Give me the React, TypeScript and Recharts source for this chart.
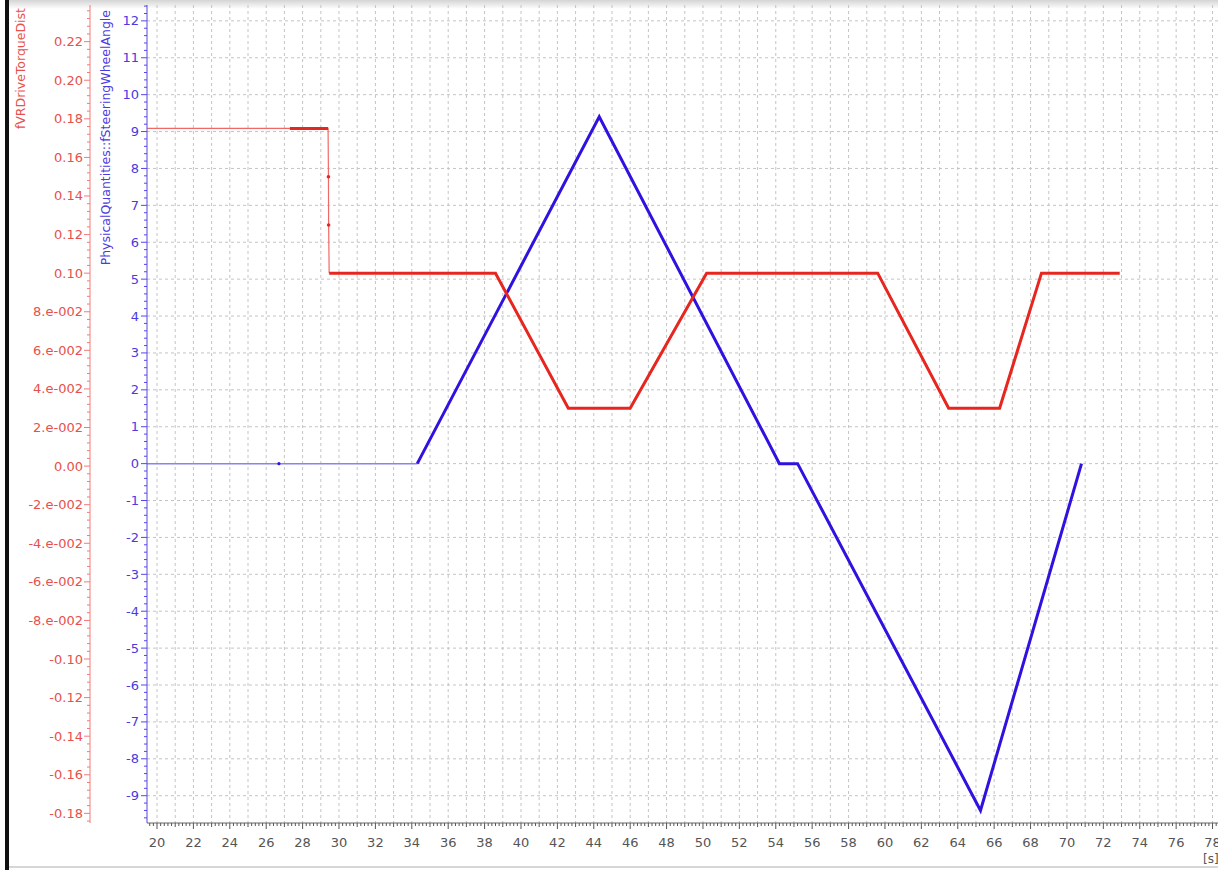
import React from 'react';
import { ComposedChart, Line, XAxis, YAxis, CartesianGrid } from 'recharts';

// ─── Data ─────────────────────────────────────────────────────────
// fVRDriveTorqueDist (left, red axis)
const torqueThinTime = [19.45, 29.4, 29.42, 29.43, 29.46];
const torqueThinValue = [0.175, 0.175, 0.15, 0.125, 0.1];
const torqueHoldTime = [27.3, 29.4];
const torqueHoldValue = [0.175, 0.175];
const torqueTime = [29.46, 38.6, 42.6, 46.0, 50.2, 59.6, 63.5, 66.3, 68.6, 72.9];
const torqueValue = [0.1, 0.1, 0.03, 0.03, 0.1, 0.1, 0.03, 0.03, 0.1, 0.1];
const torqueDotTime = [29.42, 29.43];
const torqueDotValue = [0.15, 0.125];

// PhysicalQuantities::fSteeringWheelAngle (inner, blue axis)
const angleThinTime = [19.45, 34.3];
const angleThinValue = [0, 0];
const angleTime = [34.3, 44.3, 54.2, 55.2, 65.25, 70.8];
const angleValue = [0, 9.4, 0, 0, -9.4, 0];
const angleDotTime = [26.7];
const angleDotValue = [0];

// Axis ticks
const torqueMajor = [0.22, 0.2, 0.18, 0.16, 0.14, 0.12, 0.1, 0.08, 0.06, 0.04, 0.02, 0, -0.02, -0.04, -0.06, -0.08, -0.1, -0.12, -0.14, -0.16, -0.18];
const torqueLabels = ['0.22', '0.20', '0.18', '0.16', '0.14', '0.12', '0.10', '8.e-002', '6.e-002', '4.e-002', '2.e-002', '0.00', '-2.e-002', '-4.e-002', '-6.e-002', '-8.e-002', '-0.10', '-0.12', '-0.14', '-0.16', '-0.18'];
const angleMajor = [12, 11, 10, 9, 8, 7, 6, 5, 4, 3, 2, 1, 0, -1, -2, -3, -4, -5, -6, -7, -8, -9];
const timeGrid = Array.from({ length: 59 }, (_, i) => 20 + i);

const RED = '#e6261f';
const RED_THIN = '#ee6a66';
const RED_AXIS = '#f27a78';
const RED_TEXT = '#e8504c';
const BLUE = '#2f12e0';
const BLUE_THIN = '#8a82f2';
const BLUE_AXIS = '#5646e6';
const BLUE_TEXT = '#4a3ae0';
const FONT = '"DejaVu Sans", Verdana, sans-serif';

const rows = (t: number[], v: number[]) => t.map((x, i) => ({ t: x, v: v[i] }));

// minor tick positions (axis decoration only)
const steps = (from: number, step: number, count: number, digits: number) =>
  Array.from({ length: count }, (_, i) => Number((from + i * step).toFixed(digits)));
const timeTicks = steps(19.6, 0.2, 294, 1);
const torqueTicks = steps(-0.184, 0.004, 106, 3);
const angleTicks = steps(-9.6, 0.2, 111, 1);

const near = (a: number, b: number) => Math.abs(a - b) < 1e-6;

const XTick = (props: any) => {
  const { x, y, payload } = props;
  const v = payload.value;
  const even = near(v / 2, Math.round(v / 2));
  const whole = near(v, Math.round(v));
  return (
    <g>
      <line x1={x} x2={x} y1={y} y2={y + (even ? 6 : whole ? 4 : 3)} stroke="#555" />
      {even && (
        <text x={x} y={y + 19} textAnchor="middle" dominantBaseline="central" fill="#555" fontSize={13} fontFamily={FONT}>
          {v}
        </text>
      )}
    </g>
  );
};

const TorqueTick = (props: any) => {
  const { x, y, payload } = props;
  const idx = torqueMajor.findIndex((m) => near(m, payload.value));
  const major = idx >= 0;
  return (
    <g>
      <line x1={x - (major ? 6 : 3)} x2={x} y1={y} y2={y} stroke={RED_AXIS} />
      {major && (
        <text x={x - 7} y={y} textAnchor="end" dominantBaseline="central" fill={RED_TEXT} fontSize={13} fontFamily={FONT}>
          {torqueLabels[idx]}
        </text>
      )}
    </g>
  );
};

const AngleTick = (props: any) => {
  const { x, y, payload } = props;
  const major = angleMajor.some((m) => near(m, payload.value));
  return (
    <g>
      <line x1={x - (major ? 6 : 3)} x2={x} y1={y} y2={y} stroke={BLUE_AXIS} />
      {major && (
        <text x={x - 8} y={y} textAnchor="end" dominantBaseline="central" fill={BLUE_TEXT} fontSize={13} fontFamily={FONT}>
          {Math.round(payload.value)}
        </text>
      )}
    </g>
  );
};

const AxisTitle = ({ text, color, cx, top }: { text: string; color: string; cx: number; top: number }) => (
  <text
    transform={`translate(${cx},${top}) rotate(-90)`}
    textAnchor="end"
    dominantBaseline="central"
    fill={color}
    fontSize={12.5}
    fontFamily={FONT}
  >
    {text}
  </text>
);

const UnitLabel = () => (
  <text x={1203} y={859} dominantBaseline="central" fill="#555" fontSize={12} fontFamily={FONT}>
    [s]
  </text>
);

export default function App() {
  return (
    <div style={{ position: 'absolute', left: 0, top: 0, width: 1218, height: 870, background: '#fff', overflow: 'hidden' }}>
      {/* window chrome */}
      <div style={{ position: 'absolute', left: 9, top: 0, width: 1209, height: 9, background: 'linear-gradient(#d4d4d4, #ffffff)' }} />
      <div style={{ position: 'absolute', left: 5, top: 0, width: 4, height: 870, background: '#111' }} />
      <div style={{ position: 'absolute', left: 9, top: 866, width: 1209, height: 2, background: '#d6d6d6' }} />

      <div style={{ position: 'absolute', left: 0, top: 0 }}>
        <ComposedChart width={1218} height={870} margin={{ top: 5, right: 0, bottom: 0, left: 10 }}>
          <CartesianGrid
            yAxisId="angle"
            stroke="#c4c4c4"
            strokeDasharray="3 3"
            horizontalValues={angleMajor}
            verticalValues={timeGrid}
          />
          <XAxis
            dataKey="t"
            type="number"
            domain={[19.45, 78.3]}
            allowDataOverflow
            ticks={timeTicks}
            interval={0}
            tick={<XTick />}
            tickLine={false}
            tickSize={0}
            tickMargin={0}
            height={47}
            axisLine={{ stroke: '#666' }}
            label={<UnitLabel />}
          />
          <YAxis
            yAxisId="angle"
            type="number"
            domain={[-9.74, 12.43]}
            allowDataOverflow
            ticks={angleTicks}
            interval={0}
            tick={<AngleTick />}
            tickLine={false}
            tickSize={0}
            tickMargin={0}
            width={57}
            axisLine={{ stroke: BLUE_AXIS }}
            label={<AxisTitle text="PhysicalQuantities::fSteeringWheelAngle" color={BLUE_TEXT} cx={105} top={10} />}
          />
          <YAxis
            yAxisId="torque"
            type="number"
            domain={[-0.185, 0.239]}
            allowDataOverflow
            ticks={torqueTicks}
            interval={0}
            tick={<TorqueTick />}
            tickLine={false}
            tickSize={0}
            tickMargin={0}
            width={80}
            axisLine={{ stroke: RED_AXIS }}
            label={<AxisTitle text="fVRDriveTorqueDist" color={RED_TEXT} cx={20} top={8} />}
          />

          <Line yAxisId="angle" data={rows(angleThinTime, angleThinValue)} dataKey="v" stroke={BLUE_THIN} strokeWidth={1.5} dot={false} activeDot={false} isAnimationActive={false} />
          <Line yAxisId="angle" data={rows(angleTime, angleValue)} dataKey="v" stroke={BLUE} strokeWidth={3} dot={false} activeDot={false} isAnimationActive={false} />
          <Line yAxisId="angle" data={rows(angleDotTime, angleDotValue)} dataKey="v" stroke="none" dot={{ r: 1.6, fill: BLUE, stroke: 'none' }} activeDot={false} isAnimationActive={false} />

          <Line yAxisId="torque" data={rows(torqueThinTime, torqueThinValue)} dataKey="v" stroke={RED_THIN} strokeWidth={1.2} dot={false} activeDot={false} isAnimationActive={false} />
          <Line yAxisId="torque" data={rows(torqueHoldTime, torqueHoldValue)} dataKey="v" stroke={RED} strokeWidth={3} dot={false} activeDot={false} isAnimationActive={false} />
          <Line yAxisId="torque" data={rows(torqueTime, torqueValue)} dataKey="v" stroke={RED} strokeWidth={3} dot={false} activeDot={false} isAnimationActive={false} />
          <Line yAxisId="torque" data={rows(torqueDotTime, torqueDotValue)} dataKey="v" stroke="none" dot={{ r: 1.8, fill: RED, stroke: 'none' }} activeDot={false} isAnimationActive={false} />
        </ComposedChart>
      </div>
    </div>
  );
}
